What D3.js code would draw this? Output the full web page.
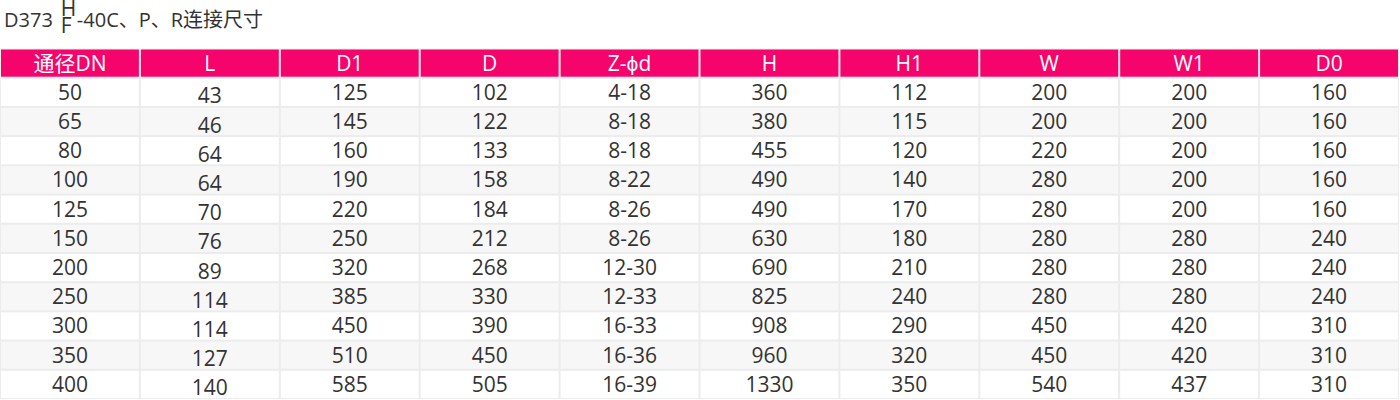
<!DOCTYPE html>
<html>
<head>
<meta charset="utf-8">
<script src="https://cdn.jsdelivr.net/npm/d3@7"></script>
<style>
  html, body { margin: 0; padding: 0; background: #fff; }
  svg { display: block; font-family: "Open Sans", "Noto Sans CJK SC", sans-serif; }
</style>
</head>
<body>
<svg id="chart"></svg>
<script>
var columns = ['通径DN', 'L', 'D1', 'D', 'Z-ϕd', 'H', 'H1', 'W', 'W1', 'D0']
var dn = ['50', '65', '80', '100', '125', '150', '200', '250', '300', '350', '400']
var lVals = ['43', '46', '64', '64', '70', '76', '89', '114', '114', '127', '140']
var d1Vals = ['125', '145', '160', '190', '220', '250', '320', '385', '450', '510', '585']
var dVals = ['102', '122', '133', '158', '184', '212', '268', '330', '390', '450', '505']
var zdVals = ['4-18', '8-18', '8-18', '8-22', '8-26', '8-26', '12-30', '12-33', '16-33', '16-36', '16-39']
var hVals = ['360', '380', '455', '490', '490', '630', '690', '825', '908', '960', '1330']
var h1Vals = ['112', '115', '120', '140', '170', '180', '210', '240', '290', '320', '350']
var wVals = ['200', '200', '220', '280', '280', '280', '280', '280', '450', '450', '540']
var w1Vals = ['200', '200', '200', '200', '200', '280', '280', '280', '420', '420', '437']
var d0Vals = ['160', '160', '160', '160', '160', '240', '240', '240', '310', '310', '310']

var svgWidth = 1400
var svgHeight = 400
var pink = '#f5046b'
var borderColor = '#ececec'
var textColor = '#333'

var svg = d3.select('#chart')
  .attr('width', svgWidth).attr('height', svgHeight)
  .attr('viewBox', '0 0 ' + svgWidth + ' ' + svgHeight)

// Title: D373 H/F -40C、P、R连接尺寸
var title = svg.append('g').attr('class', 'title')
  .attr('fill', textColor).style('font-size', '20px')
var t1 = title.append('text').attr('x', 4).attr('y', 27).text('D373')
var hx = 4 + t1.node().getComputedTextLength() + 8
title.append('text').attr('x', hx).attr('y', 15.5).style('font-size', '21px').text('H')
title.append('text').attr('x', hx).attr('y', 33).style('font-size', '21px').text('F')
title.append('text').attr('x', hx + 16).attr('y', 27).text('-40C、P、R连接尺寸')

// Table
var valueCols = [dn, lVals, d1Vals, dVals, zdVals, hVals, h1Vals, wVals, w1Vals, d0Vals]
var rows = dn.map(function(d, i) {
  return valueCols.map(function(col) { return col[i] })
})

var tableTop = 48.5
var tableBottom = 399
var x = d3.scaleBand().domain(d3.range(columns.length))
  .range([0, 1399]).paddingInner(2 / 140).paddingOuter(1 / 140)
var y = d3.scaleBand().domain(d3.range(rows.length + 1))
  .range([tableTop, tableBottom]).paddingInner(2 / 29).paddingOuter(1 / 29)

svg.append('rect')
  .attr('x', 0).attr('y', tableTop)
  .attr('width', 1399).attr('height', tableBottom - tableTop)
  .attr('fill', borderColor)

// Header row
var header = svg.append('g').attr('class', 'header')
header.selectAll('rect').data(columns).enter().append('rect')
  .attr('x', function(d, i) { return x(i) })
  .attr('y', y(0))
  .attr('width', x.bandwidth()).attr('height', y.bandwidth())
  .attr('fill', pink)
header.selectAll('text').data(columns).enter().append('text')
  .attr('x', function(d, i) { return x(i) + x.bandwidth() / 2 })
  .attr('y', y(0) + y.bandwidth() / 2 + 7.5)
  .attr('text-anchor', 'middle')
  .attr('fill', '#fff')
  .style('font-size', '21px')
  .text(function(d) { return d })

// Body rows
var body = svg.selectAll('g.row').data(rows).enter().append('g')
  .attr('class', 'row')
  .attr('transform', function(d, i) { return 'translate(0 ' + y(i + 1) + ')' })

body.selectAll('rect').data(function(d) { return d }).enter().append('rect')
  .attr('x', function(d, i) { return x(i) })
  .attr('width', x.bandwidth()).attr('height', y.bandwidth())
  .attr('fill', function(d, i, nodes) {
    var r = rows.indexOf(d3.select(nodes[i].parentNode).datum())
    return r % 2 === 0 ? '#fff' : '#f7f7f7'
  })

body.selectAll('text').data(function(d) { return d }).enter().append('text')
  .attr('x', function(d, i) { return x(i) + x.bandwidth() / 2 })
  // the L column sits a little lower in the original
  .attr('y', function(d, i) { return y.bandwidth() / 2 + 7.5 + (i === 1 ? 3.5 : 0) })
  .attr('text-anchor', 'middle')
  .attr('fill', textColor)
  .style('font-size', '21px')
  .text(function(d) { return d })
</script>
</body>
</html>
